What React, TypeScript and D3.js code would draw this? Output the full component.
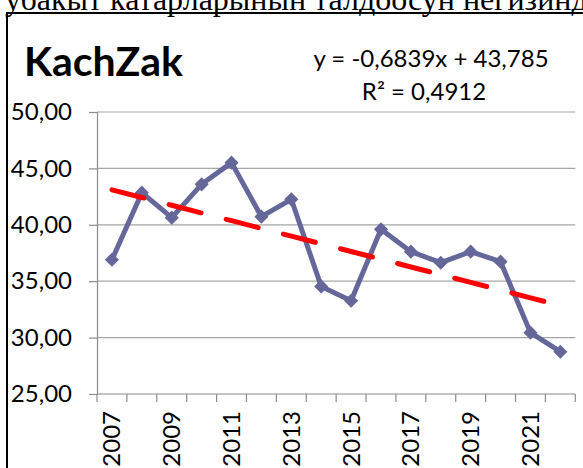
import React, { useEffect, useRef } from 'react';
import * as d3 from 'd3';

// data
const years = ['2007', '2008', '2009', '2010', '2011', '2012', '2013', '2014',
  '2015', '2016', '2017', '2018', '2019', '2020', '2021', '2022'];
const values = [36.9, 42.85, 40.63, 43.59, 45.51, 40.72, 42.26, 34.54,
  33.27, 39.6, 37.62, 36.64, 37.62, 36.73, 30.44, 28.75];
const yTicks = [25, 30, 35, 40, 45, 50];
const xLabels = ['2007', '2009', '2011', '2013', '2015', '2017', '2019', '2021'];
const trendSlope = -0.6839;
const trendIntercept = 43.785;
const rSquared = '0,4912';
const chartTitle = 'KachZak';
const pageText = 'убакыт катарларынын талдоосун негизинде';

const width = 583;
const height = 468;

const fmt = (v: number) => v.toFixed(2).replace('.', ',');
const comma = (v: number) => String(v).replace('.', ',');

function App() {
  const ref = useRef<SVGSVGElement>(null);

  useEffect(() => {
    const svg = d3.select(ref.current);
    svg.selectAll('*').remove();

    const font = 'Lato, "Noto Sans", sans-serif';
    const left = 97, right = 575.3, top = 112, bottom = 394;

    const x = d3.scaleBand().domain(years).range([left, right]);
    const y = d3.scaleLinear().domain([25, 50]).range([bottom, top]);
    const cx = (d: string) => (x(d) as number) + x.bandwidth() / 2;

    // page text above the chart (cut off at the top)
    svg.append('text')
      .attr('x', 5)
      .attr('y', 10)
      .attr('font-family', '"Liberation Serif", "Times New Roman", serif')
      .attr('font-size', 32)
      .attr('fill', '#000')
      .text(pageText);

    // chart frame
    svg.append('line').attr('x1', 7).attr('x2', width).attr('y1', 13).attr('y2', 13)
      .attr('stroke', '#000').attr('stroke-width', 2);
    svg.append('line').attr('x1', 7).attr('x2', 7).attr('y1', 12).attr('y2', height)
      .attr('stroke', '#000').attr('stroke-width', 2);

    // gridlines
    svg.append('g')
      .selectAll('line')
      .data(yTicks.slice(1))
      .join('line')
      .attr('x1', left).attr('x2', right)
      .attr('y1', (d) => y(d)).attr('y2', (d) => y(d))
      .attr('stroke', '#a6a6a6').attr('stroke-width', 1.2);

    // y axis
    const yAxis = svg.append('g')
      .attr('transform', `translate(${left},0)`)
      .call(d3.axisLeft(y).tickValues(yTicks).tickSize(8).tickPadding(17).tickFormat((d) => fmt(+d)));
    yAxis.select('.domain').attr('stroke', '#8c8c8c').attr('stroke-width', 1.2);
    yAxis.selectAll('.tick line').attr('stroke', '#8c8c8c').attr('stroke-width', 1.2);
    yAxis.selectAll('.tick text')
      .attr('font-family', font).attr('font-size', 24).attr('fill', '#000');

    // x axis: ticks on band edges
    const xg = svg.append('g');
    xg.append('line').attr('x1', left).attr('x2', right).attr('y1', bottom).attr('y2', bottom)
      .attr('stroke', '#8c8c8c').attr('stroke-width', 1.2);
    xg.selectAll('line.tk')
      .data([...years.map((d) => x(d) as number), right])
      .join('line')
      .attr('class', 'tk')
      .attr('x1', (d) => d).attr('x2', (d) => d)
      .attr('y1', bottom).attr('y2', bottom + 8)
      .attr('stroke', '#8c8c8c').attr('stroke-width', 1.2);
    xg.selectAll('text')
      .data(xLabels)
      .join('text')
      .attr('transform', (d) => `translate(${cx(d)},${bottom + 17}) rotate(-90)`)
      .attr('text-anchor', 'end')
      .attr('dy', '0.35em')
      .attr('font-family', font).attr('font-size', 24).attr('fill', '#000')
      .text((d) => d);

    // series line
    const line = d3.line<number>()
      .x((_, i) => cx(years[i]))
      .y((d) => y(d));
    svg.append('path')
      .datum(values)
      .attr('d', line)
      .attr('fill', 'none')
      .attr('stroke', '#65679b')
      .attr('stroke-width', 5)
      .attr('stroke-linejoin', 'round');

    svg.append('g')
      .selectAll('path')
      .data(values)
      .join('path')
      .attr('d', d3.symbol().type(d3.symbolSquare).size(100))
      .attr('transform', (d, i) => `translate(${cx(years[i])},${y(d)}) rotate(45)`)
      .attr('fill', '#65679b');

    // linear trendline
    const trend = years.map((_, i) => trendIntercept + trendSlope * (i + 1));
    svg.append('path')
      .datum(trend)
      .attr('d', line)
      .attr('fill', 'none')
      .attr('stroke', '#ff0000')
      .attr('stroke-width', 5)
      .attr('stroke-linecap', 'round')
      .attr('stroke-dasharray', '33 26');

    // title
    svg.append('text')
      .attr('x', 24).attr('y', 76)
      .attr('font-family', font).attr('font-weight', 700).attr('font-size', 41)
      .attr('fill', '#000')
      .text(chartTitle);

    // trendline equation
    const eq = svg.append('text')
      .attr('font-family', font).attr('font-size', 24).attr('fill', '#000')
      .attr('text-anchor', 'middle');
    eq.append('tspan').attr('x', 431).attr('y', 67)
      .text(`y = ${comma(trendSlope)}x + ${comma(trendIntercept)}`);
    eq.append('tspan').attr('x', 424).attr('y', 100).text(`R² = ${rSquared}`);
  }, []);

  return (
    <svg ref={ref} width={width} height={height}
      style={{ position: 'absolute', left: 0, top: 0, background: '#fff' }} />
  );
}

export default App;
